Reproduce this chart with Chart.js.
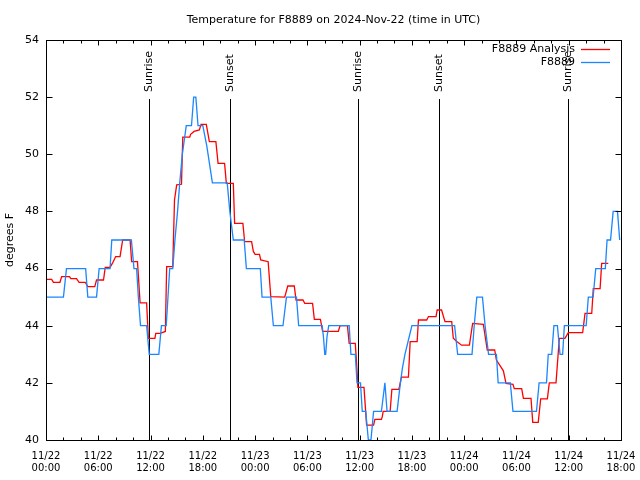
<!DOCTYPE html>
<html>
<head>
<meta charset="utf-8">
<script src="https://cdn.jsdelivr.net/npm/chart.js@4.4.0/dist/chart.umd.min.js"></script>
<style>
html,body{margin:0;padding:0;background:#fff;}
canvas{display:block;}
</style>
</head>
<body>
<canvas id="c" width="640" height="480"></canvas>
<script>
// Hours since 2024-11-22 00:00 UTC
const analysisHours = [0,0.65,0.85,1.6,1.8,2.7,2.85,3.5,3.8,4.5,4.8,5.6,5.8,6.6,6.8,7.35,7.65,8.0,8.5,8.8,9.65,9.83,10.5,10.8,11.55,11.75,12.5,12.6,13.1,13.7,13.85,14.55,14.75,15.0,15.55,15.7,16.5,16.6,17.0,17.6,17.8,18.4,18.75,19.5,19.75,20.5,20.7,21.5,21.65,22.6,22.8,23.6,23.8,24.0,24.5,24.65,25.5,25.8,27.4,27.75,28.5,28.7,29.5,29.7,30.6,30.8,31.5,31.75,33.55,33.75,34.6,34.8,35.5,35.65,35.8,36.5,36.8,37.6,37.75,38.5,38.6,38.7,39.5,39.7,40.5,40.8,41.6,41.8,42.6,42.75,43.7,43.9,44.77,44.9,45.4,45.8,46.57,46.75,47.15,47.7,48.6,48.97,50.2,50.65,51.5,51.7,52.5,52.8,53.6,53.75,54.6,54.8,55.67,55.87,56.5,56.78,57.55,57.77,58.54,58.92,59.57,59.95,61.6,61.87,62.64,62.82,63.6,63.78,64.54];
const analysisTemps = [45.62,45.62,45.52,45.52,45.72,45.72,45.65,45.65,45.52,45.52,45.37,45.37,45.6,45.6,46.04,46.04,46.2,46.42,46.42,47.0,47.0,46.24,46.24,44.8,44.8,43.56,43.56,43.73,43.73,43.8,46.07,46.07,48.4,48.93,48.95,50.6,50.6,50.7,50.8,50.85,51.05,51.05,50.44,50.44,49.68,49.68,48.98,48.98,47.58,47.58,46.94,46.94,46.6,46.5,46.5,46.3,46.24,45.02,45.0,45.39,45.39,44.9,44.9,44.78,44.78,44.22,44.22,43.8,43.8,44.0,44.0,43.38,43.38,42.7,41.84,41.84,40.52,40.52,40.72,40.72,40.82,41.0,41.0,41.77,41.77,42.2,42.2,43.44,43.44,44.2,44.2,44.32,44.32,44.55,44.55,44.14,44.14,43.56,43.45,43.32,43.32,44.08,44.05,43.15,43.15,42.8,42.42,41.98,41.95,41.8,41.8,41.46,41.46,40.62,40.62,41.44,41.44,42.0,42.0,43.56,43.56,43.76,43.76,44.43,44.43,45.3,45.3,46.18,46.18];

const stationHours = [0,2.0,2.35,4.55,4.8,5.8,6.1,7.35,7.55,9.8,10.1,10.4,10.6,10.85,11.55,11.85,12.95,13.25,13.8,14.0,14.2,14.55,14.8,15.1,15.35,15.65,16.1,16.7,16.95,17.2,17.45,18.0,18.45,18.8,19.1,20.8,21.1,21.5,22.75,23.0,24.6,24.8,25.8,26.1,27.2,27.6,28.75,29.0,31.7,31.85,32.0,32.1,32.25,32.45,34.8,35.0,35.5,35.7,36.1,36.3,36.7,37.0,37.3,37.6,38.5,38.9,39.15,40.3,40.6,40.9,41.2,41.6,42.0,46.9,47.25,48.9,49.15,49.45,50.1,50.4,50.8,51.7,51.9,53.3,53.6,56.3,56.6,57.45,57.65,58.05,58.3,58.7,59.0,59.3,59.5,62.0,62.25,62.8,63.1,64.2,64.4,64.8,65.1,65.6,65.85];
const stationTemps = [45,45,46,46,45,45,46,46,47,47,46,46,45,44,44,43,43,44,44,45,46,46,47,48,49,50,51,51,52,52,51,51,50.3,49.6,49,49,48,47,47,46,46,45,45,44,44,45,45,44,44,43.6,43,43,43.6,44,44,43,43,42,42,41,41,40,40,41,41,42,41,41,41.8,42.5,43,43.5,44,44,43,43,44,45,45,44,43,43,42,42,41,41,42,42,43,43,44,44,43,43,44,44,45,45,46,46,47,47,48,48,47];

const sunTimes = [11.86, 21.15, 35.85, 45.14, 59.95];
const sunLabels = ['Sunrise','Sunset','Sunrise','Sunset','Sunrise'];
const yTicks = [40,42,44,46,48,50,52,54];
const titleText = 'Temperature for F8889 on 2024-Nov-22 (time in UTC)';
const yTitle = 'degrees F';
const seriesNames = ['F8889 Analysis','F8889'];
const seriesColors = ['#ff0000','#1a86ff'];

const FONT = 'DejaVu Sans';

function pairs(h, v){ return h.map((x,i)=>({x:x, y:v[i]})); }
function fmtTick(v){
  const day = 22 + Math.floor(v/24);
  const hr = Math.round(v % 24);
  return ['11/' + day, (hr<10?'0':'') + hr + ':00'];
}

const decor = {
  id:'decor',
  beforeDatasetsDraw(chart){
    const {ctx, chartArea:a, scales:{x,y}} = chart;
    ctx.save();
    ctx.strokeStyle = '#000';
    ctx.lineWidth = 1;
    sunTimes.forEach((t,i)=>{
      const px = Math.round(x.getPixelForValue(t)) + 0.5;
      ctx.beginPath();
      ctx.moveTo(px, 99);
      ctx.lineTo(px, a.bottom);
      ctx.stroke();
    });
    ctx.restore();
  },
  afterDraw(chart){
    const {ctx, chartArea:a, scales:{x,y}} = chart;
    ctx.save();
    ctx.strokeStyle = '#000';
    ctx.lineWidth = 1;
    const L = Math.round(a.left)+0.5, R = Math.round(a.right)+0.5, T = Math.round(a.top)+0.5, B = Math.round(a.bottom)+0.5;
    ctx.strokeRect(L, T, R-L, B-T);
    ctx.beginPath();
    for (let h = x.min; h <= x.max; h += 2) {
      const px = Math.round(x.getPixelForValue(h)) + 0.5;
      const len = (h % 6 === 0) ? 5 : 3;
      ctx.moveTo(px, B); ctx.lineTo(px, B-len);
      ctx.moveTo(px, T); ctx.lineTo(px, T+len);
    }
    yTicks.forEach(v=>{
      const py = Math.round(y.getPixelForValue(v)) + 0.5;
      ctx.moveTo(L, py); ctx.lineTo(L+6, py);
      ctx.moveTo(R, py); ctx.lineTo(R-6, py);
    });
    ctx.stroke();

    ctx.fillStyle = '#000';
    ctx.font = '11px "' + FONT + '"';
    ctx.textAlign = 'center';
    ctx.textBaseline = 'middle';
    ctx.fillText(titleText, (a.left + a.right)/2, 20);
    ctx.save();
    ctx.translate(10, 240);
    ctx.rotate(-Math.PI/2);
    ctx.fillText(yTitle, 0, 0);
    ctx.restore();
    sunTimes.forEach((t,i)=>{
      const px = Math.round(x.getPixelForValue(t)) + 0.5;
      ctx.save();
      ctx.translate(px, 92);
      ctx.rotate(-Math.PI/2);
      ctx.textAlign = 'left';
      ctx.textBaseline = 'middle';
      ctx.fillText(sunLabels[i], 0, 0);
      ctx.restore();
    });
    ctx.textAlign = 'right';
    ctx.textBaseline = 'middle';
    seriesNames.forEach((n,i)=>{
      const ly = 49 + i*13;
      ctx.fillStyle = '#000';
      ctx.fillText(n, 575, ly);
      ctx.strokeStyle = seriesColors[i];
      ctx.lineWidth = 1.3;
      ctx.beginPath();
      ctx.moveTo(581, Math.round(ly)+0.5);
      ctx.lineTo(610, Math.round(ly)+0.5);
      ctx.stroke();
    });
    ctx.restore();
  }
};

new Chart(document.getElementById('c').getContext('2d'), {
  type: 'line',
  data: {
    datasets: [
      {label: seriesNames[0], data: pairs(analysisHours, analysisTemps), borderColor: seriesColors[0], borderWidth: 1.3, pointRadius: 0, tension: 0, fill: false, order: 2},
      {label: seriesNames[1], data: pairs(stationHours, stationTemps), borderColor: seriesColors[1], borderWidth: 1.3, pointRadius: 0, tension: 0, fill: false, order: 1}
    ]
  },
  options: {
    responsive: false,
    animation: false,
    devicePixelRatio: 1,
    layout: {padding: {top: 40, right: 19, left: 0, bottom: 0}},
    plugins: {legend: {display: false}, title: {display: false}, tooltip: {enabled: false}},
    scales: {
      x: {
        type: 'linear', min: 0, max: 66,
        grid: {display: false, drawTicks: false},
        border: {display: false},
        ticks: {stepSize: 6, autoSkip: false, maxRotation: 0, minRotation: 0, padding: 10, color: '#000',
          font: {family: FONT, size: 10, lineHeight: 1.2}, callback: v => fmtTick(v)},
        afterFit: s => { s.height = 40; s.paddingLeft = 0; s.paddingRight = 0; }
      },
      y: {
        min: 40, max: 54,
        grid: {display: false, drawTicks: false},
        border: {display: false},
        ticks: {stepSize: 2, padding: 7, color: '#000', font: {family: FONT, size: 11}},
        afterFit: s => { s.width = 46; s.paddingTop = 0; s.paddingBottom = 0; }
      }
    }
  },
  plugins: [decor]
});
</script>
</body>
</html>
